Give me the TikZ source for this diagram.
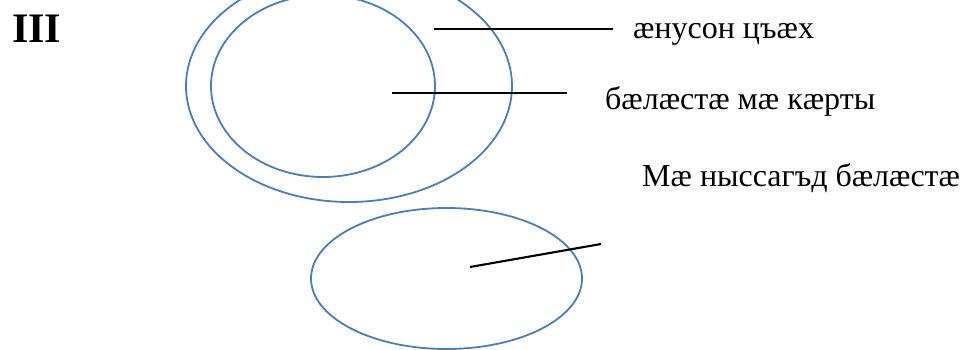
\documentclass[tikz,border=0pt]{standalone}
\usepackage{fontspec}
\setmainfont{Liberation Serif}
\definecolor{ellblue}{HTML}{4A7EBB}
\begin{document}
\begin{tikzpicture}[x=1pt,y=-1pt,
  ell/.style={draw=ellblue,line width=1.8pt},
  leader/.style={draw=black,line width=2.1pt},
  lbl/.style={anchor=base west,inner sep=0pt,font=\fontsize{32}{38}\selectfont}]
\useasboundingbox (0,0) rectangle (969,350);
\node[anchor=base west,inner sep=0pt,font=\fontsize{42}{48}\selectfont\bfseries] (num) at (12,43) {III};
% ellipses
\draw[ell] (349,86) ellipse [x radius=163, y radius=116];
\draw[ell] (323,86) ellipse [x radius=112, y radius=91];
\draw[ell] (446.5,278.5) ellipse [x radius=135.5, y radius=70.5];
% labels
\node[lbl] (t1) at (633,39) {æнусон цъæх};
\node[lbl] (t2) at (605,110) {бæлæстæ мæ кæрты};
\node[lbl] (t3) at (642,186) {Мæ ныссагъд бæлæстæ};
% leader lines
\coordinate (a1) at (434,29); \coordinate (b1) at (613,29);
\coordinate (a2) at (392,93); \coordinate (b2) at (567,93);
\coordinate (a3) at (470,267); \coordinate (b3) at (601,244);
\draw[leader] (a1) -- (b1);
\draw[leader] (a2) -- (b2);
\draw[leader] (a3) -- (b3);
\end{tikzpicture}
\end{document}
